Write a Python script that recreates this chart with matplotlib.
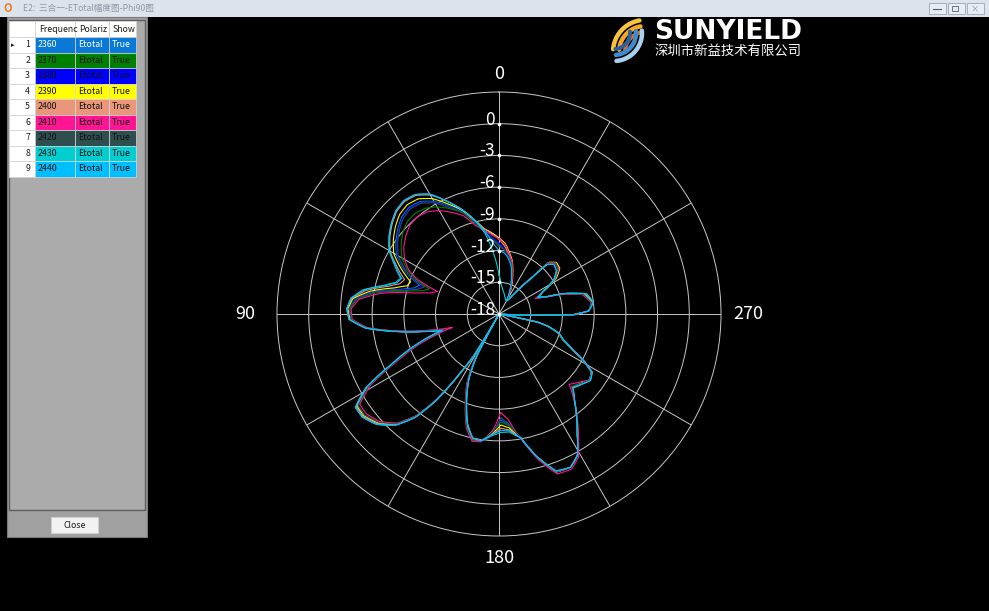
import numpy as np
import matplotlib
matplotlib.use('Agg')
import matplotlib.pyplot as plt
from matplotlib.patches import Rectangle
from matplotlib.transforms import offset_copy

plt.rcParams['font.family'] = ['Noto Sans CJK SC', 'DejaVu Sans']

W, H = 989, 611

# ---------------- data ----------------
angles = [0, 5, 10, 15, 20, 25, 30, 35, 40, 45,
          50, 55, 60, 64, 67, 70, 73, 76, 80, 84,
          88, 92, 96, 100, 103, 106, 108, 111, 115, 119,
          123, 127, 132, 137, 141, 144, 147, 149, 150.5, 152,
          155, 159, 164, 168, 172, 177, 181, 185, 190, 195,
          200, 205, 209, 213, 217, 221, 225, 230, 234, 238,
          241, 244, 248, 252, 256, 258, 259.5, 266, 268, 269.5,
          272, 277, 283, 287, 290, 293, 297, 302, 307, 312,
          316, 318, 322, 326, 331, 336, 341, 346, 351, 355]

freqs = [2360, 2370, 2380, 2390, 2400, 2410, 2420, 2430, 2440]
polarization = ['Etotal'] * 9
show = ['True'] * 9
row_colors = ['#0A78D7', '#008000', '#0000FF', '#FFFF00', '#E9967A',
              '#FF1493', '#2F4F4F', '#00CED1', '#00BFFF']

db_2360 = [-11.4, -10.8, -10.0, -8.9, -7.6, -6.7, -5.7, -5.0, -4.8, -5.0,
           -5.5, -6.1, -6.8, -7.8, -8.7, -10.0, -9.6, -8.4, -5.9, -4.3,
           -3.8, -3.9, -5.4, -8.5, -10.8, -12.6, -11.3, -9.4, -7.0, -3.8,
           -2.0, -2.0, -2.6, -3.8, -5.6, -8.0, -11.7, -13.6, -18.0, -13.4,
           -11.1, -9.3, -7.0, -5.9, -5.9, -6.8, -8.0, -7.5, -6.1, -4.0,
           -2.1, -2.0, -2.7, -4.4, -5.8, -7.1, -8.2, -7.8, -7.4, -7.7,
           -8.9, -10.3, -11.5, -12.1, -13.3, -14.3, -18.0, -18.0, -14.4, -10.9,
           -9.5, -9.1, -9.7, -11.5, -13.3, -14.1, -13.3, -11.8, -11.0, -10.8,
           -11.3, -13.4, -15.2, -16.2, -16.3, -15.3, -14.3, -13.1, -12.4, -11.9]
db_2370 = [-11.5, -11.0, -10.1, -9.1, -7.8, -7.0, -6.3, -5.8, -5.6, -5.7,
           -6.1, -6.7, -7.4, -8.3, -9.3, -11.0, -10.5, -9.1, -6.3, -4.5,
           -3.9, -4.0, -5.5, -8.6, -10.9, -12.8, -11.5, -9.5, -7.1, -3.9,
           -2.1, -2.1, -2.7, -3.8, -5.6, -8.0, -11.7, -13.6, -18.0, -13.3,
           -11.0, -9.2, -6.9, -5.8, -5.9, -6.9, -7.8, -7.4, -6.1, -4.0,
           -2.1, -2.0, -2.7, -4.4, -5.8, -7.1, -8.3, -7.9, -7.4, -7.7,
           -8.9, -10.3, -11.5, -12.1, -13.3, -14.3, -18.0, -18.0, -14.4, -10.9,
           -9.5, -9.2, -9.8, -11.6, -13.3, -14.1, -13.3, -11.8, -11.0, -10.8,
           -11.3, -13.4, -15.2, -16.2, -16.3, -15.3, -14.3, -13.1, -12.4, -11.9]
db_2380 = [-11.3, -10.8, -10.0, -8.9, -7.6, -6.8, -5.8, -5.1, -4.9, -5.1,
           -5.6, -6.2, -6.9, -7.9, -8.8, -10.3, -9.9, -8.6, -6.0, -4.3,
           -3.8, -4.0, -5.4, -8.5, -10.8, -12.6, -11.3, -9.4, -7.0, -3.8,
           -2.0, -2.0, -2.6, -3.8, -5.6, -8.0, -11.7, -13.6, -18.0, -13.4,
           -11.1, -9.3, -7.0, -5.9, -5.9, -6.8, -8.1, -7.6, -6.1, -4.0,
           -2.1, -2.0, -2.7, -4.4, -5.8, -7.1, -8.2, -7.8, -7.4, -7.7,
           -8.9, -10.3, -11.5, -12.1, -13.3, -14.3, -18.0, -18.0, -14.4, -10.9,
           -9.5, -9.1, -9.7, -11.5, -13.3, -14.1, -13.3, -11.8, -11.0, -10.8,
           -11.3, -13.4, -15.2, -16.2, -16.3, -15.3, -14.3, -13.1, -12.4, -11.9]
db_2390 = [-10.8, -10.3, -9.8, -8.8, -7.5, -6.5, -5.4, -4.7, -4.5, -4.7,
           -5.2, -5.8, -6.5, -7.5, -8.3, -9.1, -8.9, -7.8, -5.6, -4.1,
           -3.7, -3.9, -5.4, -8.5, -10.8, -12.6, -11.3, -9.4, -7.0, -3.8,
           -2.0, -2.0, -2.6, -3.8, -5.6, -8.0, -11.7, -13.6, -18.0, -13.4,
           -11.1, -9.3, -7.0, -5.9, -5.9, -6.7, -7.5, -7.2, -6.1, -4.0,
           -2.1, -2.0, -2.7, -4.4, -5.8, -7.1, -8.2, -7.8, -7.4, -7.7,
           -8.9, -10.3, -11.5, -12.1, -13.3, -14.3, -18.0, -18.0, -14.4, -10.9,
           -9.5, -9.1, -9.7, -11.5, -13.3, -14.1, -13.3, -11.6, -10.8, -10.7,
           -11.2, -13.3, -15.2, -16.2, -16.2, -15.0, -14.0, -12.8, -12.0, -11.3]
db_2400 = [-10.9, -10.4, -9.8, -8.7, -7.4, -6.2, -5.0, -4.3, -4.1, -4.3,
           -4.8, -5.4, -6.1, -7.1, -7.8, -8.5, -8.2, -7.2, -5.2, -4.0,
           -3.6, -3.8, -5.3, -8.4, -10.7, -12.5, -11.2, -9.3, -6.9, -3.7,
           -1.9, -1.9, -2.5, -3.7, -5.5, -7.9, -11.6, -13.5, -18.0, -13.5,
           -11.2, -9.4, -7.1, -6.0, -5.9, -6.6, -7.2, -7.0, -6.1, -4.0,
           -2.1, -2.0, -2.7, -4.4, -5.8, -7.1, -8.2, -7.8, -7.4, -7.7,
           -8.9, -10.3, -11.5, -12.1, -13.3, -14.3, -18.0, -18.0, -14.4, -10.9,
           -9.5, -9.1, -9.6, -11.4, -13.2, -14.0, -13.3, -11.8, -11.0, -10.8,
           -11.3, -13.4, -15.2, -16.2, -16.3, -15.2, -14.2, -12.9, -12.2, -11.6]
db_2410 = [-10.9, -10.5, -10.0, -9.3, -8.1, -7.4, -6.7, -6.2, -6.0, -6.1,
           -6.5, -7.0, -7.7, -8.5, -9.6, -11.8, -11.2, -9.8, -6.7, -4.7,
           -4.0, -4.1, -5.5, -8.7, -11.2, -13.4, -12.0, -9.8, -7.3, -4.1,
           -2.3, -2.3, -2.8, -3.9, -5.7, -8.1, -11.8, -13.7, -18.0, -13.0,
           -10.8, -9.1, -6.8, -5.7, -5.8, -7.0, -8.7, -8.0, -6.0, -3.8,
           -1.9, -1.8, -2.5, -4.2, -5.7, -7.2, -8.6, -8.0, -7.4, -7.6,
           -8.7, -10.1, -11.4, -12.0, -13.2, -14.2, -18.0, -18.0, -14.3, -10.8,
           -9.5, -9.2, -9.9, -11.6, -13.4, -14.3, -13.4, -11.8, -10.9, -10.8,
           -11.3, -13.4, -15.2, -16.2, -16.2, -15.1, -14.1, -12.9, -12.1, -11.4]
db_2420 = [-11.6, -11.0, -10.1, -9.0, -7.7, -6.9, -5.9, -5.2, -5.0, -5.2,
           -5.7, -6.3, -7.0, -8.0, -8.9, -10.5, -10.0, -8.8, -6.1, -4.4,
           -3.8, -4.0, -5.4, -8.5, -10.8, -12.7, -11.4, -9.5, -7.1, -3.9,
           -2.1, -2.1, -2.7, -3.8, -5.6, -8.0, -11.7, -13.6, -18.0, -13.3,
           -11.0, -9.2, -6.9, -5.9, -5.9, -6.8, -8.2, -7.6, -6.1, -4.0,
           -2.1, -2.0, -2.7, -4.4, -5.8, -7.1, -8.3, -7.8, -7.4, -7.7,
           -8.9, -10.3, -11.5, -12.1, -13.3, -14.3, -18.0, -18.0, -14.4, -10.9,
           -9.5, -9.2, -9.8, -11.5, -13.3, -14.1, -13.3, -11.8, -11.0, -10.8,
           -11.3, -13.4, -15.2, -16.2, -16.3, -15.3, -14.3, -13.1, -12.4, -11.9]
db_2430 = [-14.3, -12.3, -10.2, -8.7, -7.4, -6.2, -4.9, -4.2, -4.0, -4.2,
           -4.7, -5.3, -6.0, -6.9, -7.5, -8.1, -7.8, -6.8, -4.9, -3.9,
           -3.6, -3.8, -5.3, -8.4, -10.6, -12.4, -11.1, -9.2, -6.8, -3.6,
           -1.8, -1.8, -2.4, -3.6, -5.4, -7.9, -11.6, -13.4, -18.0, -13.6,
           -11.3, -9.5, -7.2, -6.0, -5.9, -6.5, -6.8, -6.8, -6.1, -4.0,
           -2.2, -2.0, -2.7, -4.4, -5.8, -7.1, -8.1, -7.7, -7.3, -7.6,
           -8.8, -10.2, -11.4, -12.0, -13.2, -14.2, -18.0, -18.0, -14.5, -11.0,
           -9.5, -9.0, -9.5, -11.3, -13.2, -14.0, -13.4, -11.9, -11.2, -11.0,
           -11.5, -13.6, -15.4, -16.4, -16.6, -16.5, -16.3, -16.0, -15.7, -15.3]
db_2440 = [-12.0, -11.3, -10.0, -8.7, -7.4, -6.2, -4.9, -4.2, -4.0, -4.2,
           -4.7, -5.3, -6.0, -7.0, -7.6, -8.2, -7.9, -6.9, -5.0, -3.9,
           -3.6, -3.8, -5.3, -8.4, -10.6, -12.4, -11.1, -9.2, -6.8, -3.6,
           -1.8, -1.8, -2.4, -3.6, -5.4, -7.9, -11.6, -13.4, -18.0, -13.6,
           -11.3, -9.5, -7.2, -6.0, -5.9, -6.6, -7.0, -6.9, -6.1, -4.0,
           -2.2, -2.0, -2.7, -4.4, -5.8, -7.1, -8.1, -7.7, -7.3, -7.6,
           -8.8, -10.2, -11.4, -12.0, -13.2, -14.2, -18.0, -18.0, -14.5, -11.0,
           -9.5, -9.0, -9.5, -11.3, -13.2, -14.0, -13.4, -11.9, -11.2, -11.0,
           -11.5, -13.6, -15.4, -16.3, -16.5, -15.4, -14.4, -13.3, -12.6, -12.2]

series = [db_2360, db_2370, db_2380, db_2390, db_2400,
          db_2410, db_2420, db_2430, db_2440]

r_ticks = [0, -3, -6, -9, -12, -15, -18]
angle_labels = ['0', '90', '180', '270']

# ---------------- figure ----------------
fig = plt.figure(figsize=(W / 100, H / 100), dpi=100, facecolor='black')

ui = fig.add_axes([0, 0, 1, 1])
ui.set_xlim(0, W)
ui.set_ylim(H, 0)
ui.axis('off')
ui.set_facecolor('black')

# title bar
ui.add_patch(Rectangle((0, 0), W, 17, fc='#DCE3EB', ec='none'))
ui.text(8, 8.5, 'O', color='#F07A20', fontsize=8, fontweight='bold',
        ha='center', va='center')
ui.text(23, 8.5, 'E2:  三合一-ETotal幅度图-Phi90图', color='#8E98A4',
        fontsize=6.2, ha='left', va='center')
for i in range(3):
    x0 = 929 + i * 19
    ui.add_patch(Rectangle((x0, 3), 17, 11, fc='#E8EDF3', ec='#9AA6B2', lw=0.6))
ui.plot([933, 941], [9, 9], color='#56606A', lw=0.8)
ui.add_patch(Rectangle((952, 6), 6, 5, fc='none', ec='#56606A', lw=0.6))
ui.text(975, 8.5, '×', color='#8A949E', fontsize=6, ha='center', va='center')

# left panel
ui.add_patch(Rectangle((7, 17), 140, 520, fc='#A0A0A0', ec='#7A7A7A', lw=0.8))
ui.add_patch(Rectangle((9, 20), 136, 490, fc='#ABABAB', ec='#5E5E5E', lw=1.0))

col_x = [9, 35, 75, 109, 136]
header = ['', 'Frequenc', 'Polariz', 'Show']
hdr_top, hdr_h, row_h = 21, 16, 15.5
for c in range(4):
    ui.add_patch(Rectangle((col_x[c], hdr_top), col_x[c + 1] - col_x[c], hdr_h,
                           fc='white', ec='#D4D4D4', lw=0.6))
    if header[c]:
        ui.text(col_x[c] + 4, hdr_top + hdr_h / 2, header[c], fontsize=6.3,
                color='#1A1A1A', ha='left', va='center')

for i, f in enumerate(freqs):
    y0 = hdr_top + hdr_h + i * row_h
    ui.add_patch(Rectangle((col_x[0], y0), col_x[1] - col_x[0], row_h,
                           fc='white', ec='#D4D4D4', lw=0.6))
    ui.text(col_x[1] - 5, y0 + row_h / 2, str(i + 1), fontsize=6.3,
            color='#1A1A1A', ha='right', va='center')
    if i == 0:
        ui.text(col_x[0] + 4, y0 + row_h / 2, '▸', fontsize=5,
                color='#1A1A1A', ha='center', va='center',
                family='DejaVu Sans')
    txt_col = 'white' if i == 0 else '#111111'
    cells = [str(f), polarization[i], show[i]]
    for c in range(3):
        ui.add_patch(Rectangle((col_x[c + 1], y0), col_x[c + 2] - col_x[c + 1],
                               row_h, fc=row_colors[i], ec='#DADADA', lw=0.5))
        ui.text(col_x[c + 1] + 3, y0 + row_h / 2, cells[c], fontsize=6.3,
                color=txt_col, ha='left', va='center')

# close button
ui.add_patch(Rectangle((51, 517), 47, 16, fc='#F2F2F2', ec='#CFCFCF', lw=0.8))
ui.text(74.5, 525, 'Close', fontsize=6.3, color='#1A1A1A', ha='center',
        va='center')

# logo mark (S-shaped swoosh)
t = np.linspace(0, 1, 40)
for r, col, lw in [(32, '#F6C33A', 3.2), (26, '#F5A623', 3.2),
                   (20, '#EE6A1C', 2.8)]:
    a = np.deg2rad(100 + 75 * t)
    ui.plot(645 + r * np.cos(a), 52 - r * np.sin(a), color=col, lw=lw,
            solid_capstyle='round')
for r, col, lw in [(28, '#A9D2EE', 3.2), (22, '#3D8CD0', 3.2),
                   (16, '#2A5FA0', 2.8)]:
    a = np.deg2rad(-85 + 90 * t)
    ui.plot(614 + r * np.cos(a), 33 - r * np.sin(a), color=col, lw=lw,
            solid_capstyle='round')
ui.text(654, 32, 'SUNYIELD', color='white', fontsize=19, fontweight='bold',
        family='DejaVu Sans', ha='left', va='center')
ui.text(655, 51, '深圳市新益技术有限公司', color='white', fontsize=9.6,
        ha='left', va='center')

# ---------------- polar chart ----------------
cx, cy, R = 499, 314, 222
ax = fig.add_axes([(cx - R) / W, (H - cy - R) / H, 2 * R / W, 2 * R / H],
                  projection='polar', facecolor='black')
ax.set_zorder(2)
ax.set_theta_zero_location('N')
ax.set_theta_direction(1)
ax.set_rlim(-18, 3)
ax.set_rgrids([-15, -12, -9, -6, -3, 0], labels=[])
ax.set_thetagrids(np.arange(0, 360, 30), labels=[])
ax.grid(True, color='#C8C8C8', lw=0.7)
ax.spines['polar'].set_color('#C8C8C8')
ax.spines['polar'].set_linewidth(0.7)
ax.tick_params(length=0)

theta = np.deg2rad(np.array(angles + [360.0]))
for vals, col in zip(series, row_colors):
    v = np.array(vals + [vals[0]])
    ln, = ax.plot(theta, v, color=col, lw=0.8)
    # draw each segment along the polar grid (curved) instead of a chord
    ln.get_path()._interpolation_steps = 6

# radial labels
lab_tr = offset_copy(ax.transData, fig=fig, x=-4, y=4, units='dots')
for v in r_ticks:
    ax.text(0, v, str(v), transform=lab_tr, ha='right', va='center',
            color='white', fontsize=12.5, clip_on=False)
ax.plot(np.zeros(len(r_ticks)), r_ticks, 'o', ms=1.6, color='white',
        clip_on=False)

# angular labels
for lab, r in zip(angle_labels, [4.7, 6.0, 5.1, 5.6]):
    ax.text(np.deg2rad(float(lab)), r, lab, ha='center', va='center',
            color='white', fontsize=13, clip_on=False)

fig.savefig('out.png', dpi=100, facecolor='black')
